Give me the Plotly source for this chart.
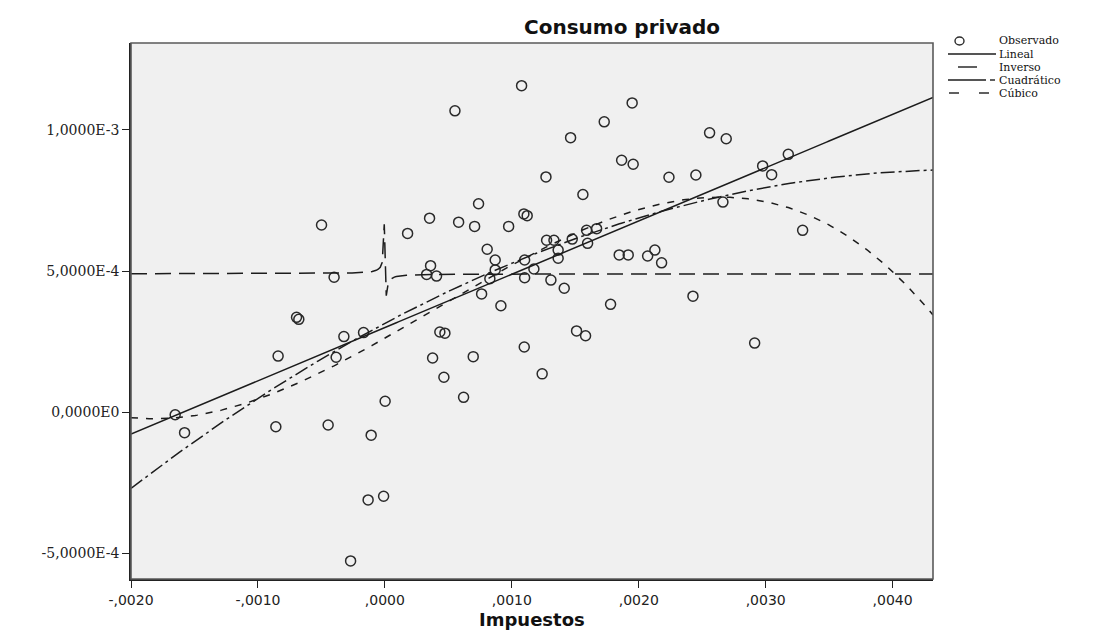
import numpy as np
import plotly.graph_objects as go

# ---------------- data ----------------
IMPUESTOS = [
    0.001077, 0.000552, 0.000738, 0.001095, 0.001121, -0.000499, 0.000352, 0.000581,
    0.000707, 0.000975, 0.000179, 0.000806, 0.000869, 0.001101, 0.000360, 0.000869,
    0.000329, 0.000407, -0.000400, 0.000827, 0.001101, 0.001174, 0.000762, 0.000914,
    0.001269, 0.001274, 0.001332, 0.001948, 0.001728, 0.001463, 0.002558, 0.002689,
    0.001865, 0.001956, 0.003178, 0.002976, 0.003047, 0.002238, 0.002450, 0.001560,
    0.002663, 0.003291, 0.001476, 0.001589, 0.001668, 0.001597, 0.001365, 0.001365,
    0.001846, 0.001917, 0.002070, 0.002127, 0.002180, 0.001308, 0.001413, 0.001778,
    0.002427, -0.000696, -0.000678, -0.000323, -0.000168, -0.000841, -0.000384, 0.000433,
    0.000473, 0.000376, 0.000696, 0.001098, 0.001239, 0.000465, 0.000620, 0.000002,
    -0.001652, -0.001578, -0.000859, -0.000447, -0.000108, -0.000132, -0.000010, -0.000270,
    0.001510, 0.001581, 0.002913,
]
CONSUMO = [
    1.156e-3, 1.067e-3, 7.38e-4, 7.02e-4, 6.96e-4, 6.63e-4, 6.87e-4, 6.73e-4,
    6.58e-4, 6.58e-4, 6.33e-4, 5.77e-4, 5.39e-4, 5.39e-4, 5.19e-4, 5.04e-4,
    4.88e-4, 4.82e-4, 4.78e-4, 4.73e-4, 4.76e-4, 5.07e-4, 4.19e-4, 3.77e-4,
    8.33e-4, 6.09e-4, 6.09e-4, 1.095e-3, 1.028e-3, 9.72e-4, 9.89e-4, 9.68e-4,
    8.92e-4, 8.78e-4, 9.13e-4, 8.72e-4, 8.41e-4, 8.32e-4, 8.40e-4, 7.71e-4,
    7.44e-4, 6.44e-4, 6.13e-4, 6.44e-4, 6.50e-4, 5.98e-4, 5.74e-4, 5.45e-4,
    5.57e-4, 5.57e-4, 5.53e-4, 5.74e-4, 5.29e-4, 4.68e-4, 4.39e-4, 3.82e-4,
    4.11e-4, 3.36e-4, 3.29e-4, 2.68e-4, 2.82e-4, 1.99e-4, 1.95e-4, 2.84e-4,
    2.80e-4, 1.92e-4, 1.97e-4, 2.31e-4, 1.36e-4, 1.24e-4, 5.3e-5, 3.9e-5,
    -8.5e-6, -7.2e-5, -5.1e-5, -4.5e-5, -8.1e-5, -3.10e-4, -2.97e-4, -5.26e-4,
    2.88e-4, 2.71e-4, 2.45e-4,
]

# fitted model coefficients
COEF_LINEAL = [3.0e-4, 0.1886]                 # b0 + b1 x
COEF_INVERSO = [4.9e-4, -8.5e-10]              # b0 + b1 / x
COEF_CUADRATICO = [3.149e-4, 0.2393, -26.34]   # b0 + b1 x + b2 x^2
COEF_CUBICO = [2.62e-4, 0.25505, 21.84, -17716.0]  # b0 + b1 x + b2 x^2 + b3 x^3

X_TICKS = [-0.002, -0.001, 0.0, 0.001, 0.002, 0.003, 0.004]
X_TICK_TEXT = ["-,0020", "-,0010", ",0000", ",0010", ",0020", ",0030", ",0040"]
Y_TICKS = [-5e-4, 0.0, 5e-4, 1e-3]
Y_TICK_TEXT = ["-5,0000E-4", "0,0000E0", "5,0000E-4", "1,0000E-3"]

X_RANGE = [-0.002, 0.004318]
Y_RANGE = [-5.9e-4, 1.307e-3]

# ---------------- figure geometry ----------------
W, H = 1096, 635
ML, MR, MT, MB = 131, 163, 43, 56
PW, PH = W - ML - MR, H - MT - MB

def px(x):
    return (x - ML) / PW

def py(y):
    return (H - MB - y) / PH

LINE_COLOR = "#1c1c1c"

xs = np.linspace(X_RANGE[0], X_RANGE[1], 400)
y_lin = np.polyval(COEF_LINEAL[::-1], xs)
y_inv = COEF_INVERSO[0] + COEF_INVERSO[1] / xs
y_quad = np.polyval(COEF_CUADRATICO[::-1], xs)
y_cub = np.polyval(COEF_CUBICO[::-1], xs)

fig = go.Figure()
fig.add_trace(go.Scatter(
    x=IMPUESTOS, y=CONSUMO, mode="markers", name="Observado",
    marker=dict(symbol="circle-open", size=10, color="#2a2a2a", line=dict(width=1.5, color="#2a2a2a")),
    showlegend=False,
))
fig.add_trace(go.Scatter(x=xs, y=y_lin, mode="lines", name="Lineal",
                         line=dict(color=LINE_COLOR, width=1.5), showlegend=False))
fig.add_trace(go.Scatter(x=xs, y=y_inv, mode="lines", name="Inverso",
                         line=dict(color=LINE_COLOR, width=1.5, dash="16px,8px"), showlegend=False))
fig.add_trace(go.Scatter(x=xs, y=y_quad, mode="lines", name="Cuadrático",
                         line=dict(color=LINE_COLOR, width=1.5, dash="14px,4px,3px,4px"), showlegend=False))
fig.add_trace(go.Scatter(x=xs, y=y_cub, mode="lines", name="Cúbico",
                         line=dict(color=LINE_COLOR, width=1.5, dash="7px,8px"), showlegend=False))

shapes = []
# plot frame
shapes.append(dict(type="rect", xref="paper", yref="paper", x0=0, x1=1, y0=0, y1=1,
                   line=dict(color="#5a5a5a", width=1.6), layer="above"))

# manual legend
rows = [41, 54, 67, 80, 93]
labels = ["Observado", "Lineal", "Inverso", "Cuadrático", "Cúbico"]
annotations = []
for r, lab in zip(rows, labels):
    annotations.append(dict(xref="paper", yref="paper", x=px(997), y=py(r), text=lab,
                            showarrow=False, xanchor="left", yanchor="middle",
                            font=dict(family="DejaVu Serif", size=11, color="#111")))
ln = dict(color=LINE_COLOR, width=1.4)
def hseg(x0, x1, y):
    shapes.append(dict(type="line", xref="paper", yref="paper", x0=px(x0), x1=px(x1),
                       y0=py(y), y1=py(y), line=ln))
shapes.append(dict(type="circle", xref="paper", yref="paper", x0=px(955), x1=px(964),
                   y0=py(rows[0] + 4), y1=py(rows[0] - 4), line=dict(color="#2a2a2a", width=1.4)))
hseg(948, 996, rows[1])
hseg(958, 977, rows[2])
hseg(948, 986, rows[3]); hseg(990, 995, rows[3])
hseg(949, 959, rows[4]); hseg(979, 989, rows[4])

# title
annotations.append(dict(xref="paper", yref="paper", x=px(622), y=py(27), text="<b>Consumo privado</b>",
                        showarrow=False, xanchor="center", yanchor="middle",
                        font=dict(family="DejaVu Sans", size=20, color="#111")))
# x axis title
annotations.append(dict(xref="paper", yref="paper", x=0.5, y=py(619), text="<b>Impuestos</b>",
                        showarrow=False, xanchor="center", yanchor="middle",
                        font=dict(family="DejaVu Sans", size=18, color="#111")))

fig.update_layout(
    width=W, height=H,
    margin=dict(l=ML, r=MR, t=MT, b=MB, pad=0),
    paper_bgcolor="white", plot_bgcolor="#f0f0f0",
    showlegend=False,
    shapes=shapes, annotations=annotations,
    xaxis=dict(range=X_RANGE, tickvals=X_TICKS, ticktext=X_TICK_TEXT, showgrid=False, zeroline=False,
               ticks="outside", ticklen=7, tickwidth=1.3, tickcolor="#222",
               showline=True, linecolor="#222", linewidth=1.5,
               tickfont=dict(family="DejaVu Sans", size=14, color="#222")),
    yaxis=dict(range=Y_RANGE, tickvals=Y_TICKS, ticktext=Y_TICK_TEXT, showgrid=False, zeroline=False,
               ticks="outside", ticklen=7, tickwidth=1.3, tickcolor="#222",
               showline=True, linecolor="#222", linewidth=1.5,
               tickfont=dict(family="DejaVu Serif", size=14, color="#222")),
)

fig.write_html("out.html")
